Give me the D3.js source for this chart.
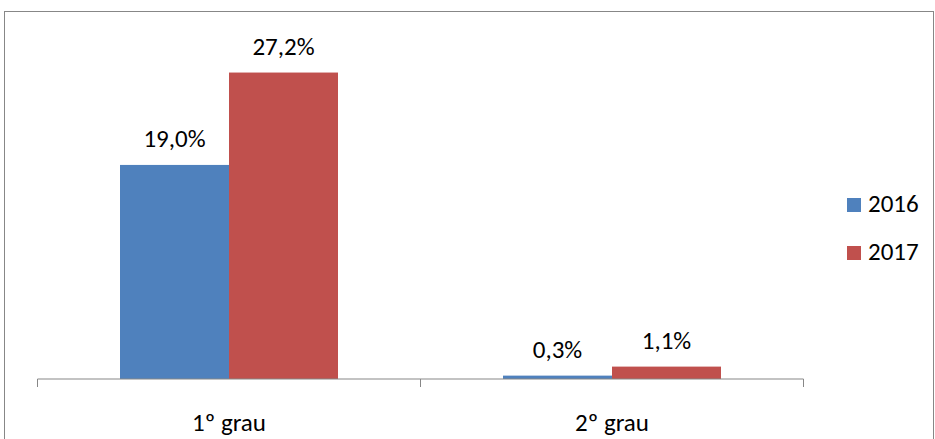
<!DOCTYPE html>
<html lang="pt">
<head>
    <meta charset="UTF-8">
    <title>1º grau / 2º grau</title>
    <script src="https://d3js.org/d3.v7.min.js"></script>
    <style>
        body {
            margin: 0;
            background: #fff;
        }
        svg text {
            font-family: Calibri, Carlito, Lato, "Open Sans", sans-serif;
            fill: #000;
        }
    </style>
</head>
<body>
<script>
    const categories = ['1º grau', '2º grau'];
    const years = ['2016', '2017'];
    const values2016 = [19.0, 0.3];
    const values2017 = [27.2, 1.1];
    const colors = ['#4F81BD', '#C0504D'];

    const width = 935, height = 439;
    const baseY = 379;
    const fontSize = '25px';

    const svg = d3.select('body').append('svg')
        .attr('width', width)
        .attr('height', height);

    // outer chart frame
    svg.append('rect')
        .attr('x', 4.5).attr('y', 11.5)
        .attr('width', 929).attr('height', 440)
        .attr('fill', 'none')
        .attr('stroke', '#878787');

    const x = d3.scaleBand()
        .domain(categories)
        .range([37.5, 803.5])
        .paddingInner(0)
        .paddingOuter(0);

    const inner = d3.scaleBand()
        .domain(years)
        .range([82.5, x.bandwidth() - 82.5]);

    const y = d3.scaleLinear()
        .domain([0, 30])
        .range([baseY, 41]);

    const rows = categories.map((c, i) => ({
        cat: c,
        vals: [values2016[i], values2017[i]]
    }));

    const groups = svg.selectAll('.grp')
        .data(rows)
        .enter().append('g')
        .attr('class', 'grp')
        .attr('transform', d => `translate(${x(d.cat)},0)`);

    groups.selectAll('rect')
        .data(d => d.vals.map((v, j) => ({ year: years[j], v: v, j: j })))
        .enter().append('rect')
        .attr('x', d => inner(d.year))
        .attr('width', inner.bandwidth())
        .attr('y', d => y(d.v))
        .attr('height', d => baseY - y(d.v))
        .attr('fill', d => colors[d.j]);

    groups.selectAll('text.lbl')
        .data(d => d.vals.map((v, j) => ({ year: years[j], v: v })))
        .enter().append('text')
        .attr('class', 'lbl')
        .attr('x', d => inner(d.year) + inner.bandwidth() / 2)
        .attr('y', d => y(d.v) - 18)
        .attr('text-anchor', 'middle')
        .style('font-size', fontSize)
        .text(d => d.v.toFixed(1).replace('.', ',') + '%');

    // category axis
    const axis = svg.append('g')
        .attr('transform', `translate(0,${baseY})`)
        .call(d3.axisBottom(x).tickSize(0).tickPadding(34));
    axis.select('.domain').attr('stroke', '#878787').attr('d', `M37.5,0H803.5`);
    axis.selectAll('.tick text').style('font-size', fontSize);

    const edges = [37.5, 420.5, 803.5];
    svg.selectAll('.edge')
        .data(edges)
        .enter().append('line')
        .attr('class', 'edge')
        .attr('x1', d => d).attr('x2', d => d)
        .attr('y1', baseY).attr('y2', baseY + 8)
        .attr('stroke', '#878787');

    // legend
    const legend = svg.selectAll('.leg')
        .data(years)
        .enter().append('g')
        .attr('class', 'leg')
        .attr('transform', (d, i) => `translate(847,${198 + i * 48})`);
    legend.append('rect')
        .attr('width', 14).attr('height', 14)
        .attr('fill', (d, i) => colors[i]);
    legend.append('text')
        .attr('x', 21).attr('y', 14)
        .style('font-size', fontSize)
        .text(d => d);
</script>
</body>
</html>
